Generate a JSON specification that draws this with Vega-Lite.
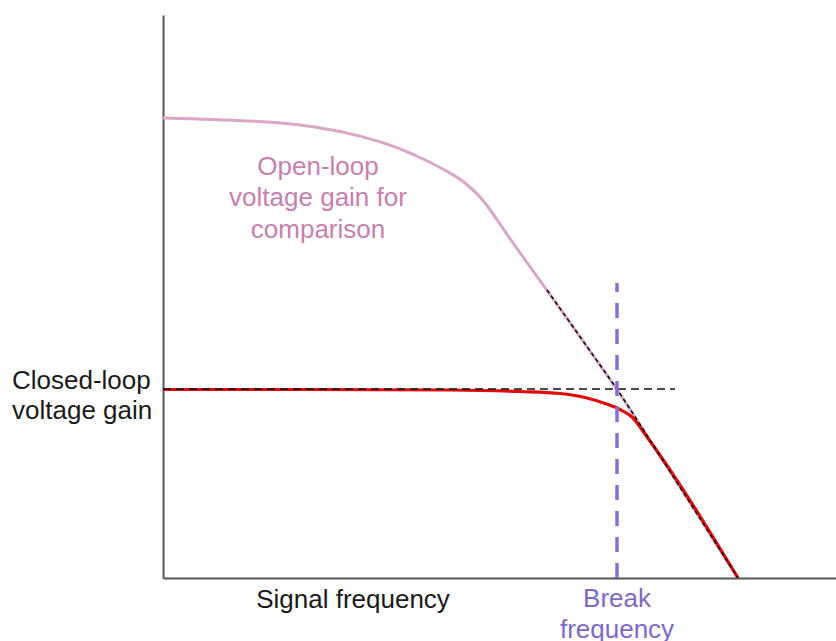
{
  "$schema": "https://vega.github.io/schema/vega-lite/v6.json",
  "width": 673,
  "height": 563,
  "autosize": "none",
  "padding": {"left": 163, "top": 15, "right": 0, "bottom": 63},
  "background": "white",
  "config": {"view": {"stroke": null}},
  "datasets": {
    "curves": [
      {"series": "open", "f": 0, "g": 46.0},
      {"series": "open", "f": 10, "g": 45.7},
      {"series": "open", "f": 15, "g": 45.2},
      {"series": "open", "f": 20, "g": 44.2},
      {"series": "open", "f": 23.7, "g": 43.0},
      {"series": "open", "f": 26.7, "g": 41.6},
      {"series": "open", "f": 28.7, "g": 40.5},
      {"series": "open", "f": 29.7, "g": 39.9},
      {"series": "open", "f": 30.7, "g": 39.1},
      {"series": "open", "f": 31.7, "g": 38.15},
      {"series": "open", "f": 32.7, "g": 36.85},
      {"series": "open", "f": 33.7, "g": 35.4},
      {"series": "open", "f": 35.4, "g": 32.9},
      {"series": "open", "f": 38.4, "g": 28.8},
      {"series": "open", "f": 45.4, "g": 18.9},
      {"series": "open", "f": 46.9, "g": 16.6},
      {"series": "open", "f": 57.5, "g": 0},
      {"series": "closed", "f": 0, "g": 18.85},
      {"series": "closed", "f": 13.7, "g": 18.85},
      {"series": "closed", "f": 28.7, "g": 18.8},
      {"series": "closed", "f": 35.7, "g": 18.65},
      {"series": "closed", "f": 39.7, "g": 18.45},
      {"series": "closed", "f": 42.2, "g": 18.05},
      {"series": "closed", "f": 44.2, "g": 17.45},
      {"series": "closed", "f": 45.7, "g": 16.85},
      {"series": "closed", "f": 46.9, "g": 16.1},
      {"series": "closed", "f": 48.4, "g": 14.1},
      {"series": "closed", "f": 57.5, "g": 0},
      {"series": "asymptote", "f": 38.4, "g": 28.8},
      {"series": "asymptote", "f": 45.4, "g": 18.9},
      {"series": "asymptote", "f": 46.9, "g": 16.6},
      {"series": "asymptote", "f": 57.5, "g": 0}
    ],
    "guides": [
      {"kind": "gainlevel", "f": 0, "f2": 51.2, "g": 18.9, "g2": 18.9},
      {"kind": "break", "f": 45.4, "f2": 45.4, "g": 0, "g2": 29.5}
    ],
    "labels": [
      {"role": "axis", "align": "left", "text": "Closed-loop", "f": -15.1, "g": 19.7},
      {"role": "axis", "align": "left", "text": "voltage gain", "f": -15.1, "g": 16.7},
      {"role": "axis", "align": "center", "text": "Signal frequency", "f": 19.0, "g": -2.2},
      {"role": "break", "align": "center", "text": "Break", "f": 45.4, "g": -2.1},
      {"role": "break", "align": "center", "text": "frequency", "f": 45.4, "g": -5.2},
      {"role": "open", "align": "center", "text": "Open-loop", "f": 15.5, "g": 41.1},
      {"role": "open", "align": "center", "text": "voltage gain for", "f": 15.5, "g": 38.0},
      {"role": "open", "align": "center", "text": "comparison", "f": 15.5, "g": 34.8}
    ]
  },
  "encoding": {
    "x": {"field": "f", "type": "quantitative", "scale": {"domain": [0, 67.3], "nice": false, "zero": false},
      "axis": {"domain": true, "domainColor": "#555555", "domainWidth": 2, "ticks": false, "labels": false, "grid": false, "title": null}},
    "y": {"field": "g", "type": "quantitative", "scale": {"domain": [0, 56.3], "nice": false, "zero": false},
      "axis": {"domain": true, "domainColor": "#555555", "domainWidth": 2, "ticks": false, "labels": false, "grid": false, "title": null}}
  },
  "layer": [
    {
      "data": {"name": "curves"},
      "transform": [{"filter": "datum.series === 'open'"}],
      "mark": {"type": "line", "color": "#d9a7c7", "strokeWidth": 3, "interpolate": "basis"}
    },
    {
      "data": {"name": "curves"},
      "transform": [{"filter": "datum.series === 'closed'"}],
      "mark": {"type": "line", "color": "#e00a0a", "strokeWidth": 3.2, "interpolate": "monotone"}
    },
    {
      "data": {"name": "curves"},
      "transform": [{"filter": "datum.series === 'asymptote'"}],
      "mark": {"type": "line", "color": "#111111", "strokeWidth": 1.6, "strokeDash": [4, 3]}
    },
    {
      "data": {"name": "guides"},
      "transform": [{"filter": "datum.kind === 'gainlevel'"}],
      "mark": {"type": "rule", "color": "#111111", "strokeWidth": 1.5, "strokeDash": [8, 5]},
      "encoding": {"x2": {"field": "f2"}, "y2": {"field": "g2"}}
    },
    {
      "data": {"name": "guides"},
      "transform": [{"filter": "datum.kind === 'break'"}],
      "mark": {"type": "rule", "color": "#8571d0", "strokeWidth": 3.5, "strokeDash": [15, 11]},
      "encoding": {"x2": {"field": "f2"}, "y2": {"field": "g2"}}
    },
    {
      "data": {"name": "labels"},
      "transform": [{"filter": "datum.role === 'axis' && datum.align === 'left'"}],
      "mark": {"type": "text", "align": "left", "baseline": "middle", "font": "Liberation Sans", "fontSize": 26, "color": "#1a1a1a"},
      "encoding": {"text": {"field": "text"}}
    },
    {
      "data": {"name": "labels"},
      "transform": [{"filter": "datum.role === 'axis' && datum.align === 'center'"}],
      "mark": {"type": "text", "align": "center", "baseline": "middle", "font": "Liberation Sans", "fontSize": 26, "color": "#1a1a1a"},
      "encoding": {"text": {"field": "text"}}
    },
    {
      "data": {"name": "labels"},
      "transform": [{"filter": "datum.role === 'break'"}],
      "mark": {"type": "text", "align": "center", "baseline": "middle", "font": "Liberation Sans", "fontSize": 26, "color": "#7d69c9"},
      "encoding": {"text": {"field": "text"}}
    },
    {
      "data": {"name": "labels"},
      "transform": [{"filter": "datum.role === 'open'"}],
      "mark": {"type": "text", "align": "center", "baseline": "middle", "font": "Liberation Sans", "fontSize": 26, "color": "#c87fae"},
      "encoding": {"text": {"field": "text"}}
    }
  ]
}
